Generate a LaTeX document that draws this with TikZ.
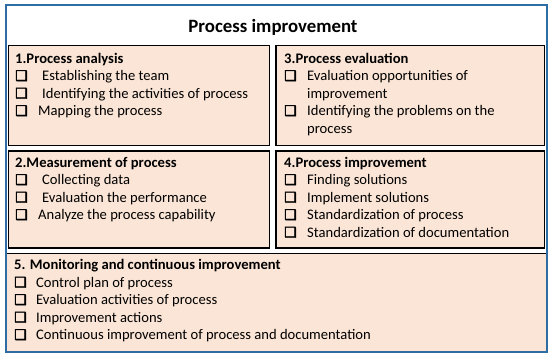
\documentclass[tikz,border=0pt]{standalone}
\usepackage{fontspec}
\setmainfont{Carlito}
\newfontfamily\dingfont{DejaVu Sans}[FakeBold=2.5]
\definecolor{peach}{HTML}{FBE5D6}
\definecolor{frameblue}{HTML}{2E6DA4}
\newcommand\cbx{{\dingfont\bfseries\fontsize{14}{14}\selectfont ❑}}
\newcommand\itm[2]{\makebox[#1][l]{\cbx}#2}
\newcommand\contl[2]{\hspace*{#1}#2}
\tikzset{
  panel/.style={draw=black, line width=1.8pt, fill=peach},
  body/.style={anchor=base west, inner sep=0pt, font=\fontsize{14.6}{17.5}\selectfont},
}
\begin{document}
\begin{tikzpicture}[x=1pt,y=-1pt]
\useasboundingbox (0,0) rectangle (550,357);
\fill[white] (0,0) rectangle (550,357);
% box 5 fill
\fill[peach] (6,253) rectangle (546,352);
\draw[black, line width=1.8pt] (6,253.5) -- (546,253.5);
% outer frame
\draw[frameblue, line width=2pt] (5.5,5) rectangle (546.5,352);
% title
\node[inner sep=0pt, anchor=base, font=\fontsize{18.8}{18.8}\bfseries] (title) at (273,32) {Process improvement};
% panels
\draw[panel] (8.5,45.5) rectangle (269.5,145.5);
\draw[panel] (276,45.5) rectangle (544.5,145.5);
\draw[panel] (8.5,151) rectangle (269.5,248);
\draw[panel] (276,151) rectangle (544.5,248);
% texts
\node[body] (t1) at (15,63) {\parbox[t]{250pt}{\textbf{1.Process analysis}\\
\itm{27pt}{Establishing the team}\\
\itm{27pt}{Identifying the activities of process}\\
\itm{23pt}{Mapping the process}}};
\node[body] (t3) at (284,63) {\parbox[t]{255pt}{\textbf{3.Process evaluation}\\
\itm{23pt}{Evaluation opportunities of}\\
\contl{23pt}{improvement}\\
\itm{23pt}{Identifying the problems on the}\\
\contl{23pt}{process}}};
\node[body] (t2) at (15,167) {\parbox[t]{250pt}{\textbf{2.Measurement of process}\\
\itm{27pt}{Collecting data}\\
\itm{27pt}{Evaluation the performance}\\
\itm{23pt}{Analyze the process capability}}};
\node[body] (t4) at (284,167) {\parbox[t]{255pt}{\textbf{4.Process improvement}\\
\itm{23pt}{Finding solutions}\\
\itm{23pt}{Implement solutions}\\
\itm{23pt}{Standardization of process}\\
\itm{23pt}{Standardization of documentation}}};
\node[body] (t5) at (14,269.5) {\parbox[t]{520pt}{\textbf{5. Monitoring and continuous improvement}\\
\itm{22pt}{Control plan of process}\\
\itm{22pt}{Evaluation activities of process}\\
\itm{22pt}{Improvement actions}\\
\itm{22pt}{Continuous improvement of process and documentation}}};
\end{tikzpicture}
\end{document}
